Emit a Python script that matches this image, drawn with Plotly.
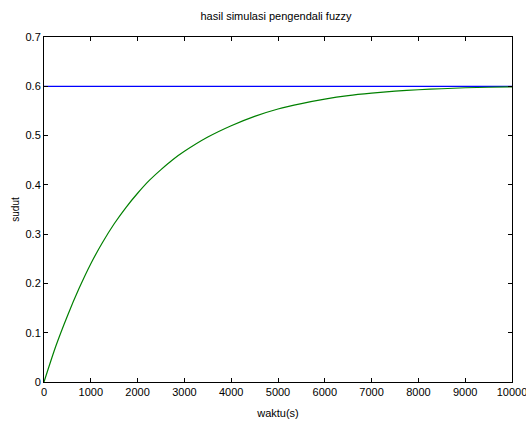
import plotly.graph_objects as go

# Data
waktu = [0, 250, 500, 750, 1000, 1250, 1500, 1750, 2000, 2250, 2500, 2750,
         3000, 3500, 4000, 4500, 5000, 5500, 6000, 6500, 7000, 7500, 8000,
         8500, 9000, 9500, 10000]
sudut = [0.0, 0.072, 0.134, 0.19, 0.24, 0.283, 0.321, 0.354, 0.383, 0.409,
         0.431, 0.451, 0.468, 0.497, 0.52, 0.539, 0.554, 0.565, 0.574,
         0.581, 0.586, 0.59, 0.593, 0.595, 0.597, 0.598, 0.599]
setpoint_x = [0, 10000]
setpoint_y = [0.6, 0.6]

x_ticks = [0, 1000, 2000, 3000, 4000, 5000, 6000, 7000, 8000, 9000, 10000]
y_ticks = [0, 0.1, 0.2, 0.3, 0.4, 0.5, 0.6, 0.7]

FONT = "Liberation Sans Narrow, Arial Narrow, Liberation Sans, Arial, sans-serif"

fig = go.Figure()
fig.add_trace(go.Scatter(x=setpoint_x, y=setpoint_y, mode="lines",
                         line=dict(color="#0000ff", width=1.2), showlegend=False))
fig.add_trace(go.Scatter(x=waktu, y=sudut, mode="lines", line_shape="spline",
                         line=dict(color="#008000", width=1.2, smoothing=0.8),
                         showlegend=False))

axis_common = dict(showgrid=False, zeroline=False, showline=True, linecolor="black",
                   linewidth=1, mirror="allticks", ticks="inside", ticklen=4,
                   tickcolor="black", tickwidth=1, automargin=False,
                   ticklabeloverflow="allow",
                   tickfont=dict(family=FONT, size=11, color="black"))

fig.update_layout(
    width=526, height=426,
    margin=dict(l=44, r=14, t=37, b=44),
    paper_bgcolor="white", plot_bgcolor="white",
    title=dict(text="hasil simulasi pengendali fuzzy", x=276/526, xanchor="center",
               y=1 - 16/426, yanchor="middle",
               font=dict(family=FONT, size=11, color="black")),
    xaxis=dict(range=[0, 10000], tickvals=x_ticks, ticktext=[str(v) for v in x_ticks],
               title=dict(text="waktu(s)", standoff=12,
                          font=dict(family=FONT, size=11, color="black")),
               **axis_common),
    yaxis=dict(range=[0, 0.7], tickvals=y_ticks, ticktext=[f"{v:g}" for v in y_ticks],
               title=dict(text="sudut", standoff=4,
                          font=dict(family="Liberation Sans, Arial, sans-serif", size=10, color="black")),
               **axis_common),
)

fig.write_html("out.html")
